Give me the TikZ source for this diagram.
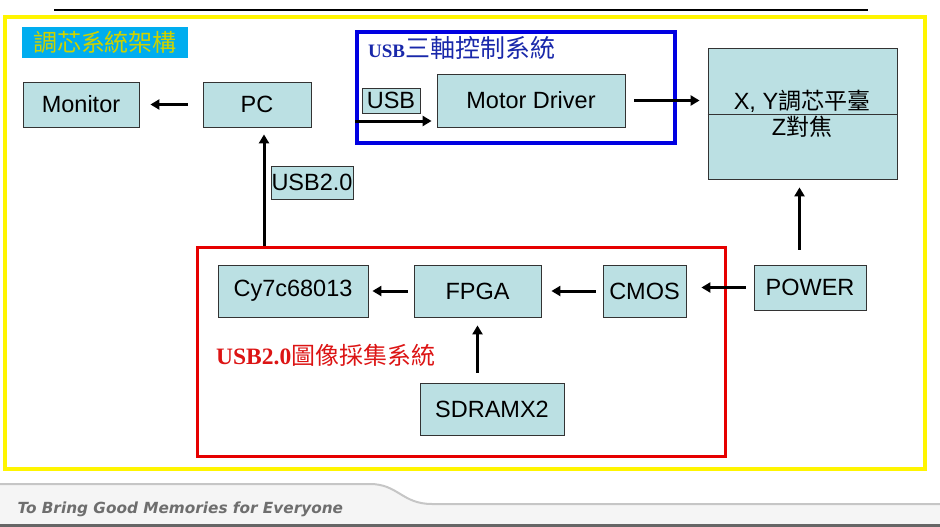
\documentclass[tikz,border=0pt]{standalone}
\usepackage{fontspec}
\usepackage{xcolor}
\usepackage{tikz}
\usetikzlibrary{arrows.meta, positioning, calc}
\setmainfont{Liberation Sans}
\newfontfamily\cjk{Noto Sans CJK TC}
\newfontfamily\titleserif{Liberation Serif}
\newfontfamily\mottofont{DejaVu Sans}
\definecolor{boxfill}{RGB}{187, 224, 227}
\definecolor{framey}{RGB}{255, 245, 0}
\definecolor{frameb}{RGB}{0, 0, 225}
\definecolor{framer}{RGB}{230, 0, 0}
\definecolor{titleb}{RGB}{25, 40, 170}
\definecolor{titler}{RGB}{220, 20, 20}
\definecolor{titley}{RGB}{205, 210, 0}
\definecolor{footgray}{RGB}{110, 110, 110}

\begin{document}
\begin{tikzpicture}[
    x=1pt, y=-1pt,
    block/.style={draw=black!80, line width=0.8pt, fill=boxfill, inner sep=0pt, font=\fontsize{23.5}{25}\selectfont, align=center},
    frame/.style={draw, line width=3.5pt, inner sep=0pt},
    arrow/.style={-{Triangle[length=9pt, width=10pt]}, line width=3pt, black}
]
    \useasboundingbox (0,0) rectangle (940,527);

    % Header line and footer
    \draw[line width=2pt] (54,10) -- (868,10);
    \fill[gray!8] (0,484) -- (370,484) .. controls (398,484) and (402,504) .. (432,504) -- (940,504) -- (940,527) -- (0,527) -- cycle;
    \draw[gray!45, line width=2pt] (0,484) -- (370,484) .. controls (398,484) and (402,504) .. (432,504) -- (940,504);
    \draw[gray!80!black, line width=2.5pt] (0,525.5) -- (940,525.5);
    \node[anchor=west, text=footgray, font=\fontsize{15.3}{17}\selectfont\mottofont\bfseries\itshape] (motto) at (14,509) {To Bring Good Memories for Everyone};

    % Frames
    \node[frame, draw=framey, minimum width=920pt, minimum height=452pt] (whole) at (465,243) {};
    \node[frame, draw=frameb, minimum width=318pt, minimum height=111pt] (ctrlsys) at (516,87.5) {};
    \node[frame, draw=framer, line width=3pt, minimum width=528pt, minimum height=209pt] (imgsys) at (461,351.5) {};

    % Titles
    \node[fill=cyan, text=titley, minimum width=166pt, minimum height=31pt, inner sep=0pt, font=\fontsize{24}{25}\selectfont\cjk] (title) at (105,42.5) {調芯系統架構};
    \node[anchor=west, text=titleb, inner sep=0pt] (ctrltitle) at (368,48) {{\titleserif\bfseries\fontsize{19}{21}\selectfont USB}{\cjk\fontsize{25}{26}\selectfont 三軸控制系統}};
    \node[anchor=west, text=titler, inner sep=0pt] (imgtitle) at (216,355) {{\titleserif\bfseries\fontsize{23.5}{25}\selectfont USB2.0}{\cjk\fontsize{24}{25}\selectfont 圖像採集系統}};

    % Upper row
    \node[block, minimum width=116pt, minimum height=45pt] (monitor) at (81,104.5) {Monitor};
    \node[block, minimum width=108pt, minimum height=45pt] (pc) at (257,104.5) {PC};
    \node[block, minimum width=58pt, minimum height=25pt] (usb) at (391,100.5) {USB};
    \node[block, minimum width=188pt, minimum height=53pt] (motor) at (531,100.5) {Motor Driver};
    \node[block, minimum width=189pt, minimum height=131pt] (xy) at (802.5,113.5) {};
    \draw[black!80, line width=0.8pt] (xy.west |- 0,114) -- (xy.east |- 0,114);
    \node[font=\fontsize{23.5}{25}\selectfont] (xytop) at (802,101) {X, Y{\cjk\fontsize{23}{24}\selectfont 調芯平臺}};
    \node[font=\fontsize{23.5}{25}\selectfont] (xybot) at (802,127) {Z{\cjk\fontsize{23}{24}\selectfont 對焦}};
    \node[block, minimum width=82pt, minimum height=33pt] (usbtwo) at (312,182.5) {USB2.0};

    % Lower row
    \node[block, minimum width=150pt, minimum height=52pt] (cy) at (293,291) {Cy7c68013};
    \node[block, minimum width=127pt, minimum height=52pt] (fpga) at (477.5,291) {FPGA};
    \node[block, minimum width=83pt, minimum height=52pt] (cmos) at (644.5,291) {CMOS};
    \node[block, minimum width=112pt, minimum height=45pt] (power) at (810,287.5) {POWER};
    \node[block, minimum width=144pt, minimum height=52pt] (sdram) at (492,409) {SDRAMX2};

    % Arrows
    \coordinate (usbin) at (355,121);
    \draw[arrow, shorten <=15pt, shorten >=11pt] (pc.west) -- (monitor.east);
    \draw[arrow, shorten >=5pt] (usbin) -- (usbin -| motor.west);
    \draw[arrow, shorten <=9pt, shorten >=8pt] (motor.east) -- (motor.east -| xy.west);
    \draw[arrow, shorten <=15pt, shorten >=8pt] ([xshift=-3pt]xy.south |- power.north) -- ([xshift=-3pt]xy.south);
    \draw[arrow, shorten >=7pt] ([xshift=7pt]pc.south |- imgsys.north) -- ([xshift=7pt]pc.south);
    \draw[arrow, shorten <=6pt, shorten >=4pt] (fpga.west) -- (cy.east);
    \draw[arrow, shorten <=7pt, shorten >=10pt] (cmos.west) -- (fpga.east);
    \draw[arrow, shorten <=8pt, shorten >=15pt] (power.west) -- (power.west -| cmos.east);
    \draw[arrow, shorten <=10pt, shorten >=8pt] (fpga.south |- sdram.north) -- (fpga.south);
\end{tikzpicture}
\end{document}
